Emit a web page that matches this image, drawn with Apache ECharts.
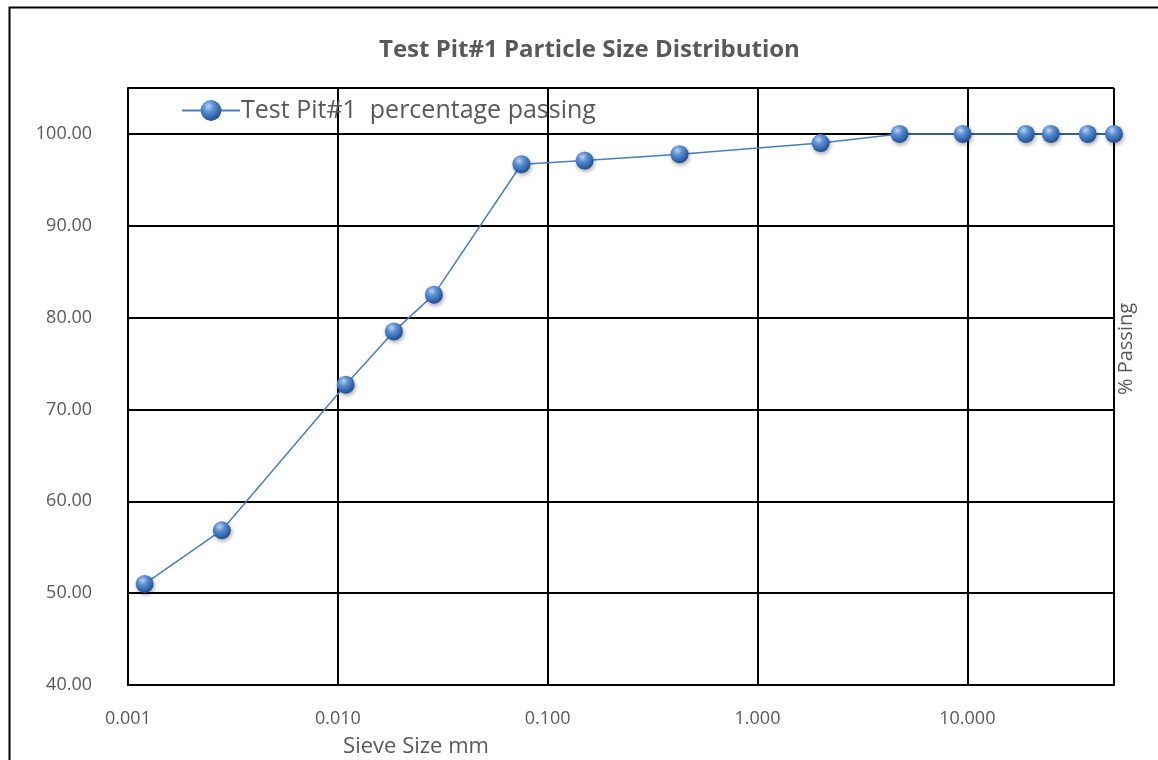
<!DOCTYPE html>
<html><head><meta charset="utf-8">
<script src="https://cdn.jsdelivr.net/npm/echarts@6/dist/echarts.min.js"></script>
<style>html,body{margin:0;padding:0;background:#fff}#c{width:1158px;height:760px}</style>
</head><body><div id="c"></div>
<script>
const titleText = 'Test Pit#1 Particle Size Distribution';
const seriesName = 'Test Pit#1  percentage passing';
const xAxisName = 'Sieve Size mm';
const yAxisName = '% Passing';
const sieveSize = [0.0012, 0.0028, 0.0109, 0.0185, 0.0287, 0.075, 0.15, 0.425, 2.0, 4.75, 9.5, 19, 25, 37.5, 50];
const percentPassing = [51.0, 56.85, 72.7, 78.5, 82.5, 96.7, 97.1, 97.8, 99.0, 100, 100, 100, 100, 100, 100];

const data = sieveSize.map((x, i) => [x, percentPassing[i]]);
const chart = echarts.init(document.getElementById('c'));
const font = 'Open Sans, Liberation Sans, sans-serif';
const sphere = new echarts.graphic.RadialGradient(0.38, 0.3, 0.75, [
  {offset: 0, color: '#bcd3f0'},
  {offset: 0.35, color: '#5b8fd4'},
  {offset: 0.8, color: '#2c5ea3'},
  {offset: 1, color: '#1f4780'}
]);
chart.setOption({
  animation: false,
  title: {text: titleText, left: 374, top: 33,
    textStyle: {fontFamily: font, fontSize: 24, fontWeight: 'bold', color: '#595959'}},
  legend: {left: 176, top: 93, itemWidth: 58, itemHeight: 26, itemGap: 0,
    textStyle: {fontFamily: font, fontSize: 25, color: '#595959', padding: [0,0,0,-4]},
    data: [seriesName]},
  grid: {left: 128, right: 44, top: 88, bottom: 75, containLabel: false, outerBoundsMode: 'none'},
  xAxis: {type: 'log', logBase: 10, min: 0.001, max: 50,
    name: xAxisName, nameLocation: 'middle', nameGap: 51,
    nameTextStyle: {fontFamily: font, fontSize: 22, color: '#595959', padding: [0, 410, 0, 0]},
    axisLine: {show: true, lineStyle: {color: '#000', width: 2}},
    axisTick: {show: false},
    axisLabel: {fontFamily: font, fontSize: 18, color: '#595959', margin: 25,
      formatter: v => { const l = Math.log10(v); return Math.abs(l - Math.round(l)) < 1e-6 ? v.toFixed(3) : ''; }},
    splitLine: {show: true, lineStyle: {color: '#000', width: 2}}},
  yAxis: {type: 'value', min: 40, max: 105, interval: 10,
    axisLine: {show: true, lineStyle: {color: '#000', width: 2}},
    axisTick: {show: false},
    axisLabel: {fontFamily: font, fontSize: 18, color: '#595959', margin: 36,
      formatter: v => v > 100 ? '' : v.toFixed(2)},
    splitLine: {show: true, lineStyle: {color: '#000', width: 2}}},
  graphic: [
    {type: 'rect', left: 7, top: 5, shape: {width: 1170, height: 780}, silent: true,
      style: {fill: 'none', stroke: '#000', lineWidth: 2}, z: 100},
    {type: 'text', x: 1126, y: 349, rotation: Math.PI / 2,
      style: {text: yAxisName, font: '20px ' + font, fill: '#595959', align: 'center', verticalAlign: 'middle'}}
  ],
  series: [{
    name: seriesName, type: 'line', data: data,
    symbol: 'circle', symbolSize: 18,
    lineStyle: {color: '#4a7ebb', width: 1.5},
    itemStyle: {color: sphere, shadowColor: 'rgba(0,0,0,0.35)', shadowBlur: 4, shadowOffsetX: 1, shadowOffsetY: 2},
    z: 10
  }]
});
</script></body></html>
